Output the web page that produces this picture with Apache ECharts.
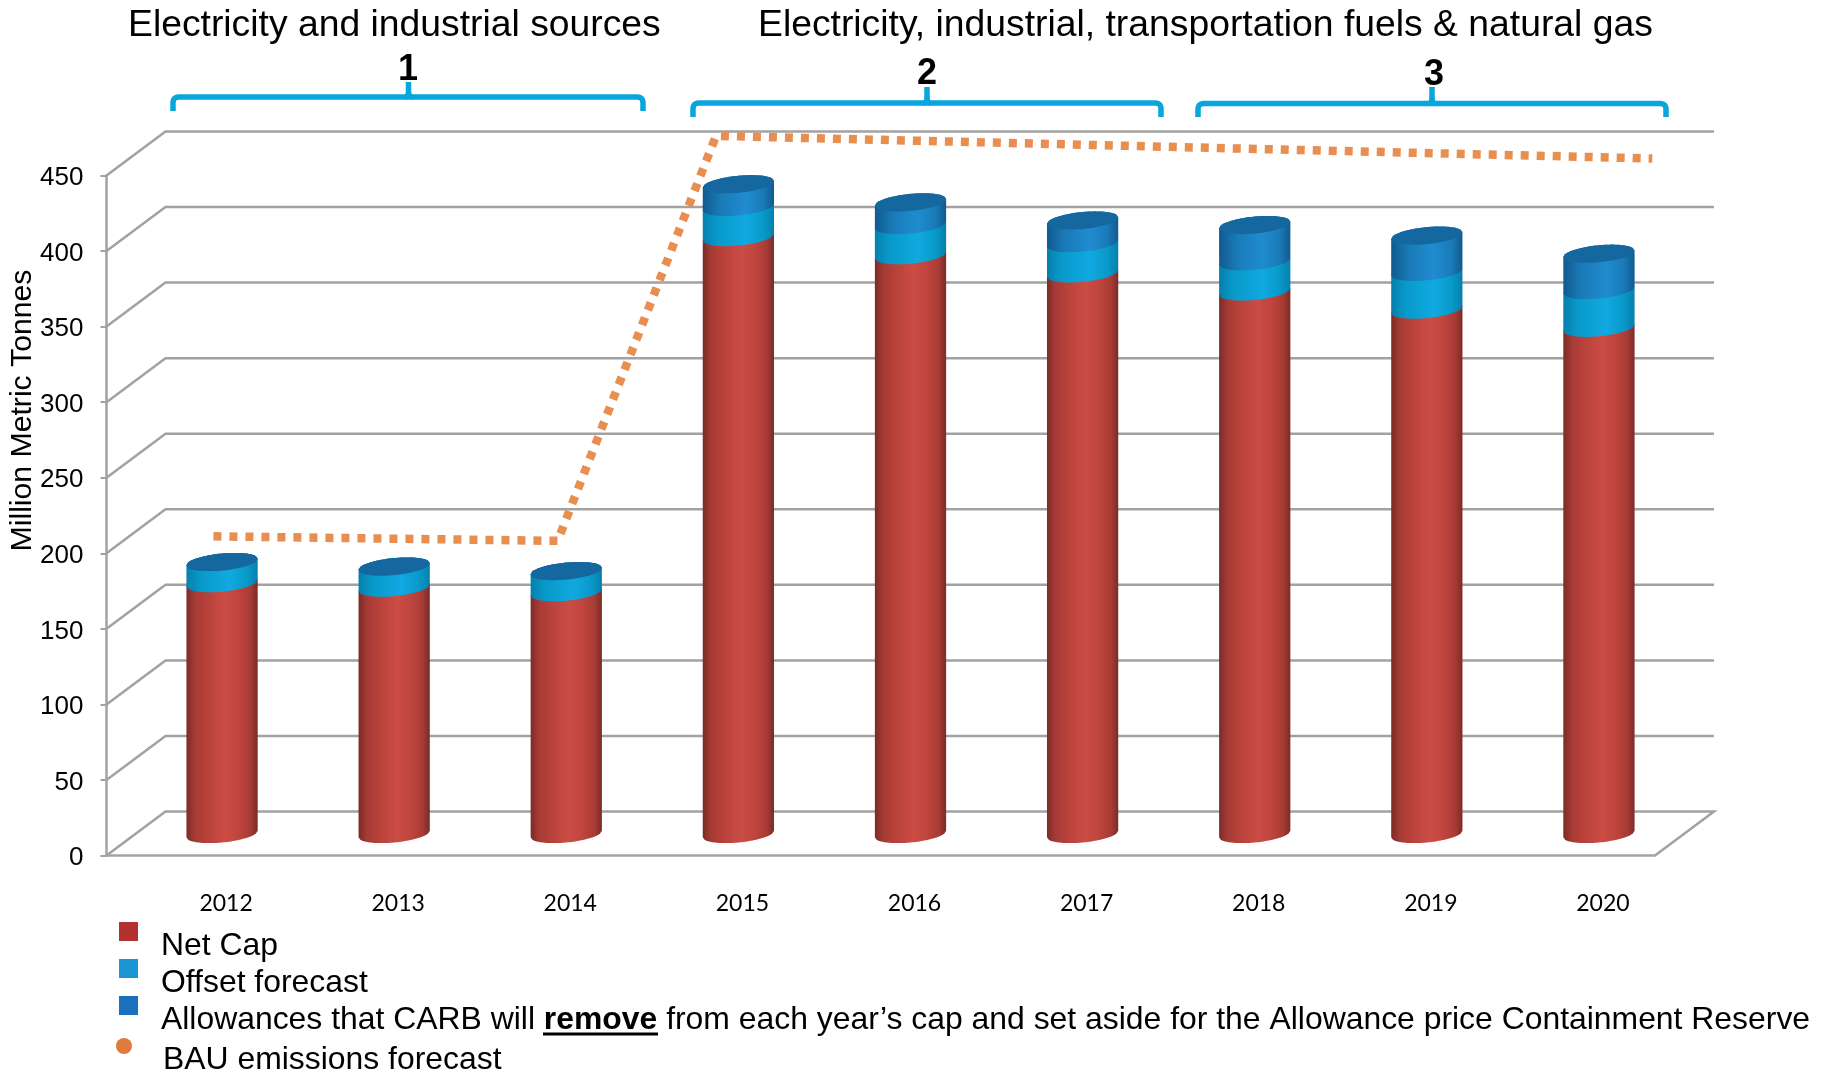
<!DOCTYPE html>
<html>
<head>
<meta charset="utf-8">
<style>html,body{margin:0;padding:0;background:#fff}#chart{width:1836px;height:1074px}</style>
<script src="https://cdn.jsdelivr.net/npm/echarts@6/dist/echarts.min.js"></script>
</head>
<body>
<div id="chart"></div>
<script>
const years = ['2012','2013','2014','2015','2016','2017','2018','2019','2020'];
const netCap = [166,163,160,395,383,371,359,347,335];
const offsetForecast = [14,14,14,20,20,20,20,25,25];
const reserveAllowances = [0,0,0,15,15,15,24,24,24];
const bauYearPosition = [2011.95,2013.95,2014.87,2020.31];
const bauEmissions = [197,194,462,447];
const valueTicks = [0,50,100,150,200,250,300,350,400,450];

const NAME_NET = 'Net Cap';
const NAME_OFFSET = 'Offset forecast';
const NAME_RESERVE = 'Allowances that CARB will remove from each year\u2019s cap and set aside for the Allowance price Containment Reserve';
const NAME_BAU = 'BAU emissions forecast';

const SANS = '"Liberation Sans", Arial, sans-serif';
const LEGEND_SIZE = 31.9;

const stops = c => c.map(([offset, color]) => ({offset, color}));
const fillOf = c => ({type:'linear', x:0, y:0, x2:1, y2:0, colorStops: stops(c)});
const RED = fillOf([[0,'#7b2b26'],[.12,'#a63b35'],[.3,'#b9423a'],[.55,'#cb4d45'],[.75,'#bd443c'],[.9,'#a63b35'],[1,'#7b2b26']]);
const TEAL = fillOf([[0,'#067fad'],[.2,'#0899c9'],[.6,'#10a9e0'],[.85,'#0899c9'],[1,'#067fad']]);
const BLUE = fillOf([[0,'#115a8f'],[.25,'#1a7ab8'],[.6,'#1f8ccf'],[.85,'#1a7ab8'],[1,'#115a8f']]);
const CAP = '#14689f';

const ELLIPSE_B = 8.5, ELLIPSE_SHEAR = 3.3, BAR_RATIO = 0.414, STEPS = 40;

function arc(cx, cy, rx, fromU, toU, sign) {
  const pts = [];
  for (let i = 0; i <= STEPS; i++) {
    const u = fromU + (toU - fromU) * i / STEPS;
    pts.push([cx + rx * u, cy - ELLIPSE_SHEAR * u + sign * ELLIPSE_B * Math.sqrt(Math.max(0, 1 - u * u))]);
  }
  return pts;
}

function cylinderRender(fill, withCap) {
  return function (params, api) {
    const cat = api.value(0);
    const lo = api.coord([cat, api.value(1)]);
    const hi = api.coord([cat, api.value(2)]);
    const rx = api.size([1, 0])[0] * BAR_RATIO / 2;
    const body = arc(lo[0], lo[1], rx, -1, 1, 1).concat(arc(hi[0], hi[1], rx, 1, -1, -1));
    const children = [{type:'polygon', shape:{points: body}, style:{fill}}];
    if (withCap) {
      const cap = arc(hi[0], hi[1], rx, -1, 1, 1).concat(arc(hi[0], hi[1], rx, 1, -1, -1));
      children.push({type:'polygon', shape:{points: cap}, style:{fill: CAP}});
    }
    return {type:'group', children};
  };
}

const DEPTH_X = 59, DEPTH_Y = 44;
function wallRender(params, api) {
  const v = api.value(1);
  const y = api.coord([0, v])[1];
  const cs = params.coordSys;
  const x0 = cs.x, x1 = cs.x + cs.width;
  const pts = [[x0, y], [x0 + DEPTH_X, y - DEPTH_Y], [x1 + DEPTH_X, y - DEPTH_Y]];
  if (v === 0) pts.push([x1, y]);
  return {type:'polyline', shape:{points: pts}, style:{fill:null, stroke:'#a2a2a2', lineWidth:2.5}};
}

function corner(p0, c, p1) {
  const out = [];
  for (let i = 0; i <= 6; i++) {
    const t = i / 6, m = 1 - t;
    out.push([m*m*p0[0] + 2*m*t*c[0] + t*t*p1[0], m*m*p0[1] + 2*m*t*c[1] + t*t*p1[1]]);
  }
  return out;
}
function bracket(x0, x1, xm, y, yEnd, yTip) {
  const r = 6;
  const pts = [[x0, yEnd]]
    .concat(corner([x0, y + r], [x0, y], [x0 + r, y]))
    .concat(corner([x1 - r, y], [x1, y], [x1, y + r]))
    .concat([[x1, yEnd]]);
  const tip = [[xm, yTip]].concat(corner([xm, y - 5], [xm, y], [xm - 4, y]));
  const tip2 = corner([xm, y - 5], [xm, y], [xm + 4, y]);
  const style = {fill:null, stroke:'#08a6dc', lineWidth:5.5};
  return [pts, tip, tip2].map(p => ({type:'polyline', shape:{points:p}, style, silent:true}));
}

const seg = (lows, highs) => years.map((_, i) => [i, lows[i], highs[i]]);
const offsetTop = netCap.map((v, i) => v + offsetForecast[i]);
const reserveTop = offsetTop.map((v, i) => v + reserveAllowances[i]);

const chart = echarts.init(document.getElementById('chart'), null, {renderer:'canvas'});
const titleStyle = {fontFamily:SANS, fontSize:37.3, fontWeight:'normal', color:'#000'};
const digitStyle = {fontFamily:SANS, fontSize:36, fontWeight:'bold', color:'#000'};
const legendRich = {b:{fontFamily:SANS, fontSize:LEGEND_SIZE, fontWeight:'bold', color:'#000'}};
chart.setOption({
  animation:false,
  backgroundColor:'#fff',
  title:[
    {text:'Electricity and industrial sources', left:123, top:2, textStyle:titleStyle},
    {text:'Electricity, industrial, transportation fuels & natural gas', left:753, top:2, textStyle:titleStyle},
    {text:'1', left:393, top:47, textStyle:digitStyle},
    {text:'2', left:912, top:51, textStyle:digitStyle},
    {text:'3', left:1419, top:52, textStyle:digitStyle}
  ],
  grid:[
    {left:106.5, width:1548.5, top:175.5, height:680, outerBoundsMode:'none'},
    {left:136, width:1549, top:154, height:680, outerBoundsMode:'none'}
  ],
  xAxis:[
    {type:'category', gridIndex:0, data:years, axisLine:{show:true, lineStyle:{color:'#a2a2a2', width:2.5}}, axisTick:{show:false}, axisLabel:{show:false}, splitLine:{show:false}},
    {type:'category', gridIndex:1, data:years, axisLine:{show:false}, axisTick:{show:false}, splitLine:{show:false},
      axisLabel:{show:true, interval:0, margin:58, fontFamily:'Lato', fontSize:23, color:'#000', padding:[0,0,0,8]}},
    {type:'value', gridIndex:1, show:false, min:2011.5, max:2020.5, splitLine:{show:false}}
  ],
  yAxis:[
    {type:'value', gridIndex:0, min:0, max:450, interval:50,
      axisLine:{show:true, lineStyle:{color:'#a2a2a2', width:2.5}},
      axisTick:{show:true, length:6, lineStyle:{color:'#a2a2a2', width:2}},
      splitLine:{show:false},
      axisLabel:{margin:23, formatter:'{v|{value}}', padding:[5,0,0,0],
        rich:{v:{fontFamily:SANS, fontSize:26, color:'#000'}}},
      name:'Million Metric Tonnes', nameLocation:'middle', nameGap:69, nameRotate:90, nameMoveOverlap:false,
      nameTextStyle:{fontFamily:SANS, fontSize:30.2, color:'#000', padding:[0,0,0,210]}},
    {type:'value', gridIndex:1, show:false, min:0, max:450, interval:50, splitLine:{show:false}}
  ],
  legend:[
    {left:114, top:917, orient:'vertical', itemWidth:19, itemHeight:19, itemGap:-3.5, selectedMode:false,
      data:[{name:NAME_NET, icon:'rect'},{name:NAME_OFFSET, icon:'rect'},{name:NAME_RESERVE, icon:'rect'}],
      formatter:n => n.replace(' remove ', ' {b|remove} '),
      textStyle:{fontFamily:SANS, fontSize:LEGEND_SIZE, color:'#000', padding:[30,0,0,18], rich:legendRich}},
    {left:111, top:1033, orient:'vertical', itemWidth:16, itemHeight:16, selectedMode:false,
      data:[{name:NAME_BAU, icon:'circle'}],
      formatter:'{a|{name}}',
      textStyle:{fontFamily:SANS, fontSize:LEGEND_SIZE, color:'#000', padding:[28,0,0,26],
        rich:{a:{fontFamily:SANS, fontSize:LEGEND_SIZE, color:'#000'}}}}
  ],
  series:[
    {type:'custom', name:'wall', xAxisIndex:0, yAxisIndex:0, z:1, silent:true, clip:false,
      data:valueTicks.map(v => [0, v]), encode:{x:0, y:1}, renderItem:wallRender},
    {type:'custom', name:NAME_NET, xAxisIndex:1, yAxisIndex:1, z:2, silent:true, clip:false, itemStyle:{color:'#b33131'},
      data:seg(years.map(() => 0), netCap), encode:{x:0, y:2}, renderItem:cylinderRender(RED, false)},
    {type:'custom', name:NAME_OFFSET, xAxisIndex:1, yAxisIndex:1, z:3, silent:true, clip:false, itemStyle:{color:'#1a96d4'},
      data:seg(netCap, offsetTop), encode:{x:0, y:2}, renderItem:cylinderRender(TEAL, false)},
    {type:'custom', name:NAME_RESERVE, xAxisIndex:1, yAxisIndex:1, z:4, silent:true, clip:false, itemStyle:{color:'#1a70bc'},
      data:seg(offsetTop, reserveTop), encode:{x:0, y:2}, renderItem:cylinderRender(BLUE, true)},
    {type:'line', name:NAME_BAU, xAxisIndex:2, yAxisIndex:1, z:5, silent:true, clip:false, showSymbol:false, symbol:'none',
      itemStyle:{color:'#e07a3d'},
      lineStyle:{color:'#e88e50', width:8.5, type:[8,8]},
      data:bauYearPosition.map((x, i) => [x, bauEmissions[i]])}
  ],
  graphic:[
    ...bracket(173, 643, 408.5, 97, 111, 82),
    ...bracket(693, 1161, 927, 103, 117, 87),
    ...bracket(1198, 1666, 1432, 103.5, 117, 87),
    {type:'rect', shape:{x:543, y:1032.5, width:115, height:3}, style:{fill:'#000'}, silent:true}
  ]
});
</script>
</body>
</html>
